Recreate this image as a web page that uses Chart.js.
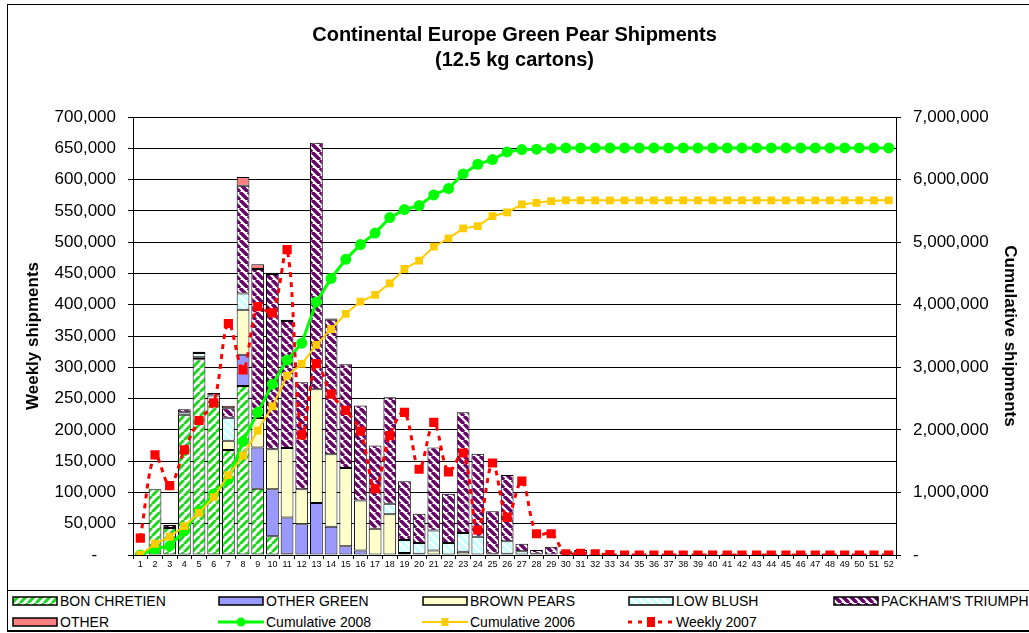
<!DOCTYPE html>
<html>
<head>
<meta charset="utf-8">
<script src="https://cdn.jsdelivr.net/npm/chart.js@4.4.1/dist/chart.umd.min.js"></script>
<style>
  body { margin: 0; background: #fff; font-family: "Liberation Sans", Arial, sans-serif; }
  #wrap { position: relative; width: 1029px; height: 633px; overflow: hidden; }
  #frame { position: absolute; left: 7px; top: 4px; width: 1100px; height: 627px; border: 1px solid #000; box-sizing: border-box; }
  #legendBox { position: absolute; left: 7px; top: 590px; width: 1100px; height: 42px; border: 1px solid #000; box-sizing: border-box; }
  #chart { position: absolute; left: 0; top: 0; }
  .lg { position: absolute; height: 16px; display: flex; align-items: center; font-size: 14px; color: #000; white-space: nowrap; }
  .lg canvas { margin-right: 2px; }
</style>
</head>
<body>
<div id="wrap">
  <div id="frame"></div>
  <div id="legendBox"></div>
  <canvas id="chart" width="1029" height="590"></canvas>
  <div id="legend"></div>
</div>
<script>
const weeks = ["1","2","3","4","5","6","7","8","9","10","11","12","13","14","15","16","17","18","19","20","21","22","23","24","25","26",
  "27","28","29","30","31","32","33","34","35","36","37","38","39","40","41","42","43","44","45","46","47","48","49","50","51","52"];

// weekly shipments by variety (cartons)
const bonChretien = [0,105000,43000,224000,313000,245000,168000,270000,106000,30000,2000,0,0,0,0,0,0,0,0,0,0,0,0,0,0,0,
  0,0,0,0,0,0,0,0,0,0,0,0,0,0,0,0,0,0,0,0,0,0,0,0,0,0];
const otherGreen = [0,0,0,0,0,0,0,50000,66000,75000,58000,49000,83000,45000,14000,7000,0,0,0,0,0,0,0,0,0,0,
  0,0,0,0,0,0,0,0,0,0,0,0,0,0,0,0,0,0,0,0,0,0,0,0,0,0];
const brownPears = [0,0,0,0,3000,0,14500,72000,47000,64000,111000,56000,182000,116000,125000,80000,42000,65000,3000,2000,7000,0,5000,0,0,2000,
  0,0,0,0,0,0,0,0,0,0,0,0,0,0,0,0,0,0,0,0,0,0,0,0,0,0];
const lowBlush = [0,0,0,4000,7000,10000,37000,26000,0,0,0,0,0,0,0,0,0,17000,21000,17000,32000,19000,30000,29000,2000,20000,
  6000,2000,0,1000,0,0,0,0,0,0,0,0,0,0,0,0,0,0,0,0,0,0,0,0,0,0];
const packham = [0,0,5000,5000,2000,4000,15000,172000,238000,280000,203000,171000,394000,215000,166000,152000,133000,170000,94000,47000,133000,79000,193000,133000,68000,106000,
  12000,6000,13000,5000,8000,2000,0,0,0,0,0,0,0,0,0,0,0,0,0,0,0,0,0,0,0,0];
const other = [0,0,0,0,0,0,4000,14000,7500,2000,2000,0,0,2000,0,0,0,0,0,0,0,0,0,0,0,0,
  0,0,0,0,0,0,0,0,0,0,0,0,0,0,0,0,0,0,0,0,0,0,0,0,0,0];

// cumulative totals (right axis) and last-but-one season weekly
const cumulative2008 = [0,100000,145000,385000,705000,975000,1210000,1815000,2280000,2730000,3115000,3385000,4045000,4420000,4725000,4962000,
  5145000,5392000,5520000,5585000,5755000,5857000,6090000,6245000,6320000,6442000,6480000,6485000,6497000,
  6505000,6505000,6505000,6505000,6505000,6505000,6505000,6505000,6505000,6505000,6505000,6505000,6505000,6505000,
  6505000,6505000,6505000,6505000,6505000,6505000,6505000,6505000,6505000];
const cumulative2006 = [5000,180000,292000,462000,675000,925000,1276000,1589000,1988000,2376000,2865000,3056000,3359000,3609000,3854000,4050000,
  4157000,4342000,4571000,4704000,4927000,5060000,5219000,5257000,5417000,5474000,5602000,5629000,5656000,
  5668000,5668000,5668000,5668000,5668000,5668000,5668000,5668000,5668000,5668000,5668000,5668000,5668000,5668000,
  5668000,5668000,5668000,5668000,5668000,5668000,5668000,5668000,5668000];
const weekly2007 = [27000,160000,111000,168000,215000,243000,370000,296000,397000,387000,488000,192000,306000,257000,231000,198000,
  106000,191000,228000,137000,212000,133000,163000,40000,147000,60000,118000,34000,34000,2000,2500,2000,500,
  0,0,0,0,0,0,0,0,0,0,0,0,0,0,0,0,0,0,0,0,0];

const FONT = "'Liberation Sans', Arial, sans-serif";

function stripes(bg, fg, size, width, rising) {
  const c = document.createElement("canvas");
  c.width = c.height = size;
  const g = c.getContext("2d");
  g.fillStyle = bg;
  g.fillRect(0, 0, size, size);
  g.strokeStyle = fg;
  g.lineWidth = width;
  g.beginPath();
  for (let k = -1; k <= 1; k++) {
    if (rising) { g.moveTo(k * size, size); g.lineTo(k * size + size, 0); }
    else { g.moveTo(k * size, 0); g.lineTo(k * size + size, size); }
  }
  g.stroke();
  return g.createPattern(c, "repeat");
}

const fills = {
  bc: stripes("#ffffff", "#1ed81e", 8, 3, true),
  pk: stripes("#ffffff", "#660066", 8, 3.5, false),
  lb: stripes("#ccffff", "#ffffff", 8, 2, false)
};

function fmt(v) {
  if (v === 0) return "-";
  return String(v).replace(/\B(?=(\d{3})+(?!\d))/g, ",");
}

function barSet(label, data, bg) {
  return {
    type: "bar", label, data, backgroundColor: bg,
    borderColor: "#000", borderWidth: c => (c.raw ? 1 : 0), borderSkipped: false,
    yAxisID: "y", order: 10, barPercentage: 0.87, categoryPercentage: 1
  };
}

const datasets = [
  barSet("BON CHRETIEN", bonChretien, fills.bc),
  barSet("OTHER GREEN", otherGreen, "#9999ff"),
  barSet("BROWN PEARS", brownPears, "#ffffcc"),
  barSet("LOW BLUSH", lowBlush, fills.lb),
  barSet("PACKHAM'S TRIUMPH", packham, fills.pk),
  barSet("OTHER", other, "#ff8080"),
  {
    type: "line", label: "Cumulative 2008", data: cumulative2008, yAxisID: "y1", order: 3,
    borderColor: "#00ff00", backgroundColor: "#00ff00", borderWidth: 3,
    pointStyle: "circle", pointRadius: 5.5, pointBorderWidth: 0, tension: 0
  },
  {
    type: "line", label: "Cumulative 2006", data: cumulative2006, yAxisID: "y1", order: 2,
    borderColor: "#ffcc00", backgroundColor: "#ffcc00", borderWidth: 2,
    pointStyle: "rect", pointRadius: 5.5, pointBorderWidth: 0, tension: 0
  },
  {
    type: "line", label: "Weekly 2007", data: weekly2007, yAxisID: "y", stack: "wk", order: 1,
    borderColor: "#ff0000", backgroundColor: "#ff0000", borderWidth: 3, borderDash: [5, 5],
    pointStyle: "rect", pointRadius: 6.5, pointBorderWidth: 0, tension: 0.35
  }
];

const chart = new Chart(document.getElementById("chart"), {
  data: { labels: weeks, datasets },
  options: {
    responsive: false,
    animation: false,
    layout: { padding: 0 },
    plugins: {
      legend: { display: false },
      tooltip: { enabled: false },
      title: {
        display: true,
        text: ["Continental Europe Green Pear Shipments", "(12.5 kg cartons)"],
        color: "#000",
        font: { family: FONT, size: 20, weight: "bold", lineHeight: 1.25 },
        padding: { top: 22.5, bottom: 44.5 }
      }
    },
    scales: {
      x: {
        stacked: true,
        grid: { drawOnChartArea: false, drawTicks: true, tickLength: 4, color: "#000" },
        border: { color: "#000", width: 1 },
        ticks: { color: "#000", font: { family: FONT, size: 9 }, autoSkip: false, maxRotation: 0, padding: 0 },
        afterFit: s => { s.height = 35; }
      },
      y: {
        stacked: true, position: "left", min: 0, max: 700000,
        grid: { color: "#000", lineWidth: 1, tickLength: 5 },
        border: { color: "#000", width: 1 },
        ticks: { stepSize: 50000, color: "#000", padding: 12, font: { family: FONT, size: 17 },
          callback: v => (v === 0 ? "-    " : fmt(v)) },
        title: { display: true, text: "Weekly shipments", color: "#000",
          font: { family: FONT, size: 17, weight: "bold", lineHeight: 1.2 }, padding: { top: 23 } },
        afterFit: s => { s.width = 133; }
      },
      y1: {
        position: "right", min: 0, max: 7000000,
        grid: { drawOnChartArea: false, color: "#000", tickLength: 5 },
        border: { color: "#000", width: 1 },
        ticks: { stepSize: 1000000, color: "#000", padding: 12, font: { family: FONT, size: 17 },
          callback: v => fmt(v) },
        title: { display: true, text: "Cumulative shipments", color: "#000",
          font: { family: FONT, size: 17, weight: "bold", lineHeight: 1.2 }, padding: { top: 9 } },
        afterFit: s => { s.width = 133; }
      }
    }
  }
});

// html legend, two rows like the original
const legendPos = [[12, 593], [218, 593], [422, 593], [628, 593], [833, 593],
                   [12, 614], [218, 614], [422, 614], [628, 614]];

function drawSwatch(ds) {
  const c = document.createElement("canvas");
  c.width = 46; c.height = 12;
  const g = c.getContext("2d");
  if (ds.type === "bar") {
    g.fillStyle = ds.backgroundColor;
    g.fillRect(1, 2, 44, 8);
    g.strokeStyle = "#000";
    g.lineWidth = 1.5;
    g.strokeRect(1, 2, 44, 8);
  } else {
    g.strokeStyle = ds.borderColor;
    g.lineWidth = ds.borderWidth;
    if (ds.borderDash) g.setLineDash([4, 6]);
    g.beginPath(); g.moveTo(0, 6); g.lineTo(46, 6); g.stroke();
    g.fillStyle = ds.backgroundColor;
    if (ds.pointStyle === "circle") {
      g.beginPath(); g.arc(23, 6, 4.5, 0, Math.PI * 2); g.fill();
    } else if (ds.borderDash) {
      g.fillRect(19, 1, 8, 10);
    } else {
      g.fillRect(19.5, 2, 7, 8);
    }
  }
  return c;
}

const legendEl = document.getElementById("legend");
datasets.forEach((ds, i) => {
  const item = document.createElement("div");
  item.className = "lg";
  item.style.left = legendPos[i][0] + "px";
  item.style.top = legendPos[i][1] + "px";
  item.appendChild(drawSwatch(ds));
  const t = document.createElement("span");
  t.textContent = ds.label;
  item.appendChild(t);
  legendEl.appendChild(item);
});
</script>
</body>
</html>
